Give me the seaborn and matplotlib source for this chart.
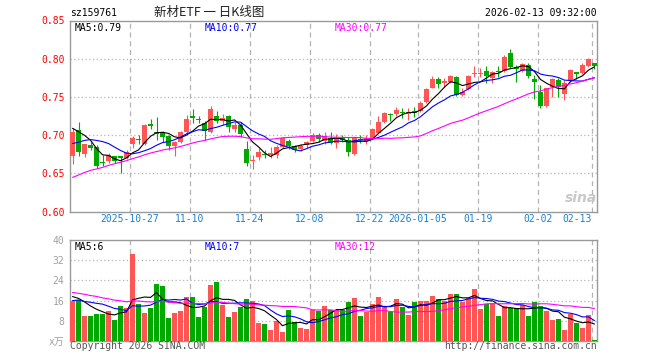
import numpy as np
import pandas as pd
import seaborn as sns
import matplotlib
matplotlib.use("Agg")
import matplotlib.pyplot as plt

# daily candles 2025-10-13 .. 2026-02-13 (88 sessions)
open_ = [0.672, 0.707, 0.675, 0.687, 0.685, 0.664, 0.6665, 0.6725, 0.672, 0.6696,
         0.688, 0.695, 0.688, 0.714, 0.7036, 0.7037, 0.699, 0.686, 0.6914, 0.7045,
         0.724, 0.721, 0.716, 0.7045, 0.725, 0.7185, 0.725, 0.7076, 0.7133, 0.6815,
         0.6655, 0.671, 0.6748, 0.674, 0.674, 0.685, 0.6927, 0.686, 0.682, 0.687,
         0.6927, 0.700, 0.6923, 0.696, 0.6893, 0.6958, 0.6936, 0.6753, 0.6955, 0.6927,
         0.6958, 0.7032, 0.7176, 0.7277, 0.7277, 0.7294, 0.7277, 0.732, 0.7316, 0.7438,
         0.7621, 0.7735, 0.7677, 0.769, 0.7765, 0.7525, 0.760, 0.780, 0.7805, 0.784,
         0.7743, 0.7844, 0.7844, 0.807, 0.7896, 0.7844, 0.7918, 0.773, 0.757, 0.738,
         0.7634, 0.7721, 0.7538, 0.7713, 0.7822, 0.7809, 0.7905, 0.794]
close = [0.7045, 0.678, 0.688, 0.683, 0.659, 0.663, 0.674, 0.666, 0.670, 0.678,
         0.696, 0.693, 0.713, 0.712, 0.702, 0.698, 0.686, 0.691, 0.7045, 0.721,
         0.723, 0.7195, 0.706, 0.734, 0.719, 0.723, 0.710, 0.7133, 0.701, 0.663,
         0.668, 0.678, 0.674, 0.677, 0.685, 0.696, 0.686, 0.681, 0.686, 0.6914,
         0.700, 0.695, 0.6993, 0.6895, 0.6967, 0.694, 0.6783, 0.697, 0.6937, 0.6958,
         0.7076, 0.7176, 0.7294, 0.7268, 0.733, 0.7285, 0.7307, 0.7285, 0.7425, 0.7604,
         0.7735, 0.767, 0.7708, 0.7773, 0.7525, 0.7565, 0.7774, 0.781, 0.781, 0.778,
         0.7822, 0.782, 0.8027, 0.7896, 0.786, 0.793, 0.7774, 0.770, 0.738, 0.7612,
         0.773, 0.7625, 0.7687, 0.7852, 0.780, 0.7918, 0.7996, 0.7905]
high = [0.709, 0.717, 0.689, 0.691, 0.687, 0.674, 0.676, 0.673, 0.672, 0.680,
        0.699, 0.700, 0.714, 0.721, 0.7237, 0.705, 0.700, 0.692, 0.706, 0.726,
        0.734, 0.725, 0.718, 0.738, 0.732, 0.727, 0.726, 0.7176, 0.7176, 0.6925,
        0.674, 0.6825, 0.681, 0.685, 0.687, 0.6967, 0.6945, 0.687, 0.688, 0.692,
        0.703, 0.703, 0.7036, 0.7045, 0.701, 0.700, 0.698, 0.698, 0.700, 0.700,
        0.709, 0.725, 0.7307, 0.7294, 0.7372, 0.736, 0.735, 0.7372, 0.744, 0.762,
        0.7778, 0.776, 0.7743, 0.7786, 0.778, 0.761, 0.7787, 0.7905, 0.7874, 0.7905,
        0.7844, 0.7905, 0.805, 0.8123, 0.7918, 0.7948, 0.794, 0.7787, 0.7656, 0.762,
        0.7743, 0.7743, 0.7721, 0.786, 0.783, 0.794, 0.8014, 0.795]
low = [0.662, 0.672, 0.671, 0.681, 0.657, 0.660, 0.663, 0.663, 0.651, 0.669,
       0.683, 0.688, 0.687, 0.708, 0.694, 0.691, 0.680, 0.673, 0.690, 0.703,
       0.7155, 0.716, 0.694, 0.703, 0.7155, 0.713, 0.7045, 0.7045, 0.697, 0.6598,
       0.656, 0.6675, 0.6705, 0.6705, 0.6696, 0.6836, 0.682, 0.678, 0.6797, 0.6827,
       0.6914, 0.6914, 0.688, 0.688, 0.6827, 0.6915, 0.672, 0.674, 0.6893, 0.689,
       0.695, 0.7023, 0.7163, 0.719, 0.725, 0.722, 0.720, 0.724, 0.7307, 0.7425,
       0.7612, 0.7612, 0.7625, 0.7677, 0.7516, 0.7515, 0.7591, 0.7756, 0.7765, 0.768,
       0.7687, 0.7756, 0.783, 0.7874, 0.770, 0.783, 0.7743, 0.747, 0.736, 0.7372,
       0.7495, 0.750, 0.746, 0.770, 0.773, 0.780, 0.7896, 0.786]
volume = [15.7, 16.4, 10, 10, 10.8, 10.8, 11.7, 8.4, 14, 12.9,
          34.5, 14.8, 10.9, 13.2, 22.5, 21.6, 9.2, 10.9, 11.7, 17.3,
          17.3, 9.7, 13.3, 22.1, 23.3, 14.1, 9.6, 11.3, 13.3, 16.5,
          16, 7.3, 6.8, 4.4, 8, 3.7, 12.1, 7.7, 5.3, 4.9,
          12.3, 11.7, 13.7, 12.3, 12.3, 12.3, 15.3, 17.2, 10, 11.6,
          14.8, 17.6, 13.6, 11.3, 16.8, 13.6, 10.4, 15.3, 15.7, 15.7,
          18, 16.8, 15.7, 18.8, 18.8, 15.3, 16.9, 20.4, 12.8, 14.7,
          14.7, 10, 13.7, 12.9, 12.9, 14.3, 10, 15.3, 13.7, 11.7,
          8.5, 8.7, 4.5, 10.5, 7.2, 5.3, 10.1, 0.5]

# sessions before the window, estimated from where the moving averages start
prev_close = [0.585, 0.590, 0.598, 0.605, 0.600, 0.596, 0.603, 0.610, 0.615, 0.618,
              0.625, 0.632, 0.640, 0.645, 0.638, 0.642, 0.650, 0.648, 0.655, 0.655,
              0.660, 0.665, 0.672, 0.670, 0.678, 0.700, 0.712, 0.715, 0.713]
prev_volume = [26, 22, 25, 21, 28, 23, 24, 22, 25, 22.5,
               17, 19, 16, 20, 18, 17, 19, 18, 16, 18,
               14, 16, 13, 15, 14, 20, 17, 18, 17.3]

tick_idx = [10, 20, 30, 40, 50, 58, 68, 78, 87]
tick_labels = ["2025-10-27", "11-10", "11-24", "12-08", "12-22",
               "2026-01-05", "01-19", "02-02", "02-13"]
price_ticks = [0.60, 0.65, 0.70, 0.75, 0.80, 0.85]
vol_ticks = [0, 8, 16, 24, 32, 40]
vol_tick_labels = ["x万", "8", "16", "24", "32", "40"]
price_ma_labels = ["MA5:0.79", "MA10:0.77", "MA30:0.77"]
vol_ma_labels = ["MA5:6", "MA10:7", "MA30:12"]

sns.set_theme(style="white")
plt.rcParams['font.family'] = ['DejaVu Sans Mono', 'Noto Sans CJK SC']

RED = '#ff5555'
GREEN = '#00a800'
GRID = '#b4b4b4'
AXIS = '#999999'
DATE_BLUE = '#1a82d2'
MA_COLORS = ['black', '#0000ff', '#ff00ff']

df = pd.DataFrame({'open': open_, 'high': high, 'low': low,
                   'close': close, 'volume': volume})
df['idx'] = np.arange(len(df))
df['dir'] = np.where(df['close'] >= df['open'], 'up', 'down')

n_prev = len(prev_close)
all_close = pd.Series(prev_close + close)
all_vol = pd.Series(prev_volume + volume)
for w in (5, 10, 30):
    df[f'ma{w}'] = all_close.rolling(w).mean().iloc[n_prev:].to_numpy()
    df[f'vma{w}'] = all_vol.rolling(w).mean().iloc[n_prev:].to_numpy()

fig = plt.figure(figsize=(6.6, 3.6), dpi=100)
ax = fig.add_axes([70 / 660, 1 - 211.5 / 360, 527 / 660, 191 / 360])
axv = fig.add_axes([70 / 660, 1 - 341 / 360, 527 / 660, 101 / 360])

xlim = (-0.42, len(df) - 1 + 0.42)
grid_x = [i - 0.42 for i in tick_idx]

# candles
colors = np.where(df['dir'] == 'up', RED, GREEN)
ax.vlines(df['idx'], df['low'], df['high'], colors=colors, linewidth=0.8, zorder=2)
body_lo = df[['open', 'close']].min(axis=1)
body_h = (df['close'] - df['open']).abs().clip(lower=0.0014)
ax.bar(df['idx'], body_h, bottom=body_lo, width=0.8, color=colors, linewidth=0, zorder=3)

for w, c in zip((5, 10, 30), MA_COLORS):
    sns.lineplot(x=df['idx'], y=df[f'ma{w}'], ax=ax, color=c, linewidth=0.8, zorder=4)

# volume
sns.barplot(data=df, x='idx', y='volume', hue='dir', palette={'up': RED, 'down': GREEN},
            dodge=False, legend=False, saturation=1, width=0.8, linewidth=0,
            native_scale=True, ax=axv, zorder=3)
for w, c in zip((5, 10, 30), MA_COLORS):
    sns.lineplot(x=df['idx'], y=df[f'vma{w}'], ax=axv, color=c, linewidth=0.8, zorder=4)

for a in (ax, axv):
    a.set_xlim(*xlim)
    a.set_xlabel('')
    a.set_ylabel('')
    for gx in grid_x:
        a.axvline(gx, color=GRID, linestyle=(0, (4, 3)), linewidth=0.9, zorder=1)
    for s in a.spines.values():
        s.set_color(AXIS)
        s.set_linewidth(1)
    a.tick_params(length=0)

ax.set_ylim(0.60, 0.85)
ax.set_yticks(price_ticks)
ax.set_yticklabels([f"{t:.2f}" for t in price_ticks], color='#ff0000', fontsize=7)
for t in price_ticks[1:-1]:
    ax.axhline(t, color=GRID, linestyle=(0, (1, 2)), linewidth=0.9, zorder=1)
ax.set_xticks(grid_x)
ax.set_xticklabels(tick_labels, color=DATE_BLUE, fontsize=7)
ax.tick_params(axis='x', pad=2)
ax.tick_params(axis='y', pad=4)
ax.get_xticklabels()[-1].set_horizontalalignment('right')

axv.set_ylim(0, 40)
axv.set_yticks(vol_ticks)
axv.set_yticklabels(vol_tick_labels, color='#a0a0a0', fontsize=7)
axv.tick_params(axis='y', pad=4)
for t in vol_ticks[1:-1]:
    axv.axhline(t, color=GRID, linestyle=(0, (1, 2)), linewidth=0.9, zorder=1)
axv.set_xticks([])

label_x = [5 / 527, 135 / 527, 265 / 527]
for lx, txt, c in zip(label_x, price_ma_labels, MA_COLORS):
    ax.text(lx, 1 - 2.5 / 191, txt, transform=ax.transAxes, va='top', ha='left',
            color=c, fontsize=7)
for lx, txt, c in zip(label_x, vol_ma_labels, MA_COLORS):
    axv.text(lx, 1 - 2.5 / 101, txt, transform=axv.transAxes, va='top', ha='left',
             color=c, fontsize=7)

fig.text(70 / 660, 1 - 13 / 360, 'sz159761', fontsize=7, va='center', ha='left', color='black')
fig.text(209 / 660, 1 - 12 / 360, '新材ETF 一 日K线图', fontsize=9, va='center', ha='center',
         color='#222222', family=['Noto Sans CJK SC', 'DejaVu Sans'])
fig.text(597 / 660, 1 - 13 / 360, '2026-02-13 09:32:00', fontsize=7, va='center', ha='right',
         color='black')
fig.text(70 / 660, 1 - 346 / 360, 'Copyright 2026 SINA.COM', fontsize=7, va='center',
         ha='left', color='#555555')
fig.text(597 / 660, 1 - 346 / 360, 'http://finance.sina.com.cn', fontsize=7, va='center',
         ha='right', color='#555555')
fig.text(581 / 660, 1 - 198 / 360, 'sina', fontsize=10, style='italic', weight='bold',
         va='center', ha='center', color='#c8c8c8', family='DejaVu Sans')

fig.savefig('out.png', dpi=100)
